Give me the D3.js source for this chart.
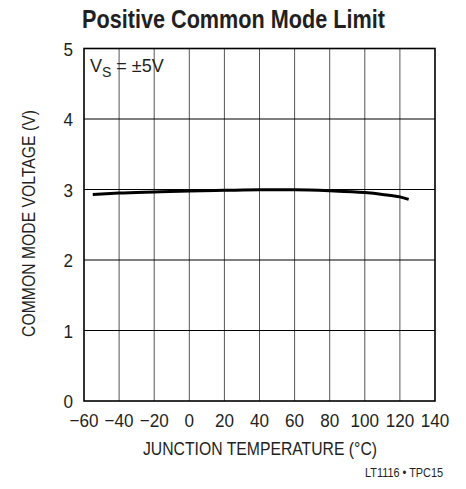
<!DOCTYPE html>
<html>
<head>
<meta charset="utf-8">
<script src="https://cdn.jsdelivr.net/npm/d3@7"></script>
<style>
  body { margin: 0; background: #fff; }
  text { font-family: "Liberation Sans Narrow", "Arial Narrow", "Liberation Sans", sans-serif; fill: #231f20; }
</style>
</head>
<body>
<div id="chart"></div>
<script>
const width = 466;
const height = 489;

// curve
const temps = [-55, -40, -20, 0, 20, 40, 60, 80, 100, 110, 120, 125];
const volts = [2.93, 2.95, 2.966, 2.98, 2.988, 2.995, 2.995, 2.982, 2.956, 2.93, 2.895, 2.86];

const xTicks = [-60, -40, -20, 0, 20, 40, 60, 80, 100, 120, 140];
const yTicks = [0, 1, 2, 3, 4, 5];

const plotLeft = 84, plotRight = 435, plotTop = 48.5, plotBottom = 401;

const x = d3.scaleLinear().domain([-60, 140]).range([plotLeft, plotRight]);
const y = d3.scaleLinear().domain([0, 5]).range([plotBottom, plotTop]);

const svg = d3.select("#chart")
  .append("svg")
  .attr("width", width)
  .attr("height", height);

// title (squeezed to look like the condensed face)
svg.append("text")
  .attr("x", 82)
  .attr("y", 28)
  .attr("textLength", 303)
  .attr("lengthAdjust", "spacingAndGlyphs")
  .style("font-size", "25px")
  .style("font-weight", "bold")
  .text("Positive Common Mode Limit");

// vertical grid
svg.selectAll("line.vgrid")
  .data(xTicks.slice(1, -1))
  .enter()
  .append("line")
  .attr("class", "vgrid")
  .attr("x1", d => x(d))
  .attr("x2", d => x(d))
  .attr("y1", plotTop)
  .attr("y2", plotBottom)
  .attr("stroke", "#555")
  .attr("stroke-width", 1);

// horizontal grid
svg.selectAll("line.hgrid")
  .data(yTicks.slice(1, -1))
  .enter()
  .append("line")
  .attr("class", "hgrid")
  .attr("x1", plotLeft)
  .attr("x2", plotRight)
  .attr("y1", d => y(d))
  .attr("y2", d => y(d))
  .attr("stroke", "#000")
  .attr("stroke-width", 1);

// frame
svg.append("rect")
  .attr("x", plotLeft)
  .attr("y", plotTop)
  .attr("width", plotRight - plotLeft)
  .attr("height", plotBottom - plotTop)
  .attr("fill", "none")
  .attr("stroke", "#000")
  .attr("stroke-width", 1.6);

// curve
const line = d3.line()
  .x((d, i) => x(temps[i]))
  .y(d => y(d))
  .curve(d3.curveMonotoneX);

svg.append("path")
  .datum(volts)
  .attr("d", line)
  .attr("fill", "none")
  .attr("stroke", "#000")
  .attr("stroke-width", 3);

// y tick labels
svg.selectAll("text.ytick")
  .data(yTicks)
  .enter()
  .append("text")
  .attr("class", "ytick")
  .attr("transform", d => `translate(${plotLeft - 11},${y(d) + 7}) scale(0.9,1)`)
  .attr("text-anchor", "end")
  .style("font-size", "19px")
  .text(d => d);

// x tick labels
svg.selectAll("text.xtick")
  .data(xTicks)
  .enter()
  .append("text")
  .attr("class", "xtick")
  .attr("transform", d => `translate(${x(d)},427) scale(0.9,1)`)
  .attr("text-anchor", "middle")
  .style("font-size", "19px")
  .text(d => d < 0 ? "\u2212" + Math.abs(d) : d);

// axis titles
svg.append("text")
  .attr("x", 143)
  .attr("y", 455)
  .attr("textLength", 234)
  .attr("lengthAdjust", "spacingAndGlyphs")
  .style("font-size", "18px")
  .text("JUNCTION TEMPERATURE (\u00B0C)");

svg.append("text")
  .attr("transform", "translate(35,337) rotate(-90)")
  .attr("textLength", 227)
  .attr("lengthAdjust", "spacingAndGlyphs")
  .style("font-size", "18px")
  .text("COMMON MODE VOLTAGE (V)");

// annotation
const note = svg.append("text")
  .attr("x", 90)
  .attr("y", 72)
  .style("font-size", "18px");
note.append("tspan").text("V");
note.append("tspan").attr("dy", 5).style("font-size", "14px").text("S");
note.append("tspan").attr("dy", -5).text(" = \u00B15V");

// footer
svg.append("text")
  .attr("x", 365)
  .attr("y", 477)
  .attr("textLength", 78)
  .attr("lengthAdjust", "spacingAndGlyphs")
  .style("font-size", "12px")
  .text("LT1116 \u2022 TPC15");
</script>
</body>
</html>
